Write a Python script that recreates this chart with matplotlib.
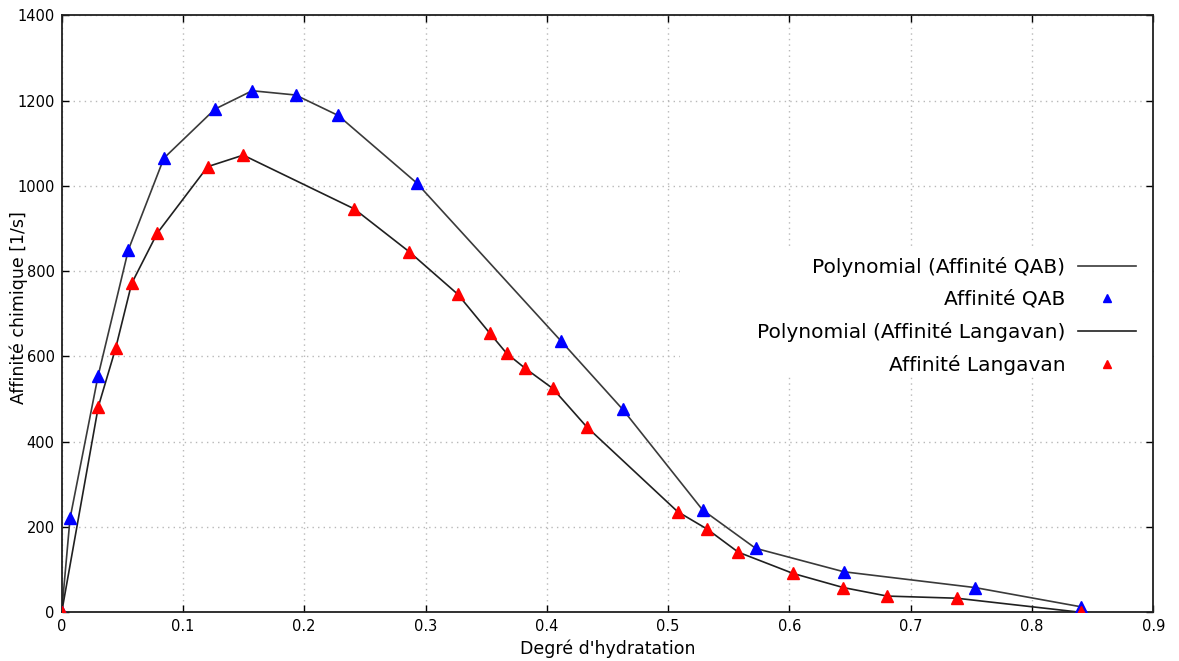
import matplotlib
matplotlib.use("Agg")
import matplotlib.pyplot as plt
from matplotlib.patches import Rectangle

plt.rcParams['font.family'] = ["DejaVu Sans"]

# Affinité QAB (triangles bleus)
x_qab = [0.0, 0.0069, 0.030, 0.055, 0.0843, 0.1264, 0.1571, 0.1929, 0.228,
         0.2926, 0.4114, 0.4625, 0.5284, 0.5721, 0.6449, 0.7529, 0.8401]
y_qab = [0, 220, 554, 850, 1065, 1180, 1223, 1213, 1165,
         1007, 637, 476, 240, 150, 95, 58, 13]

# Affinité Langavan (triangles rouges)
x_lang = [0.0, 0.0302, 0.0445, 0.0577, 0.0788, 0.1204, 0.1497, 0.2412, 0.2863,
          0.3265, 0.3531, 0.3669, 0.3822, 0.4048, 0.4328, 0.5078, 0.5322,
          0.5578, 0.6031, 0.6444, 0.6806, 0.7378, 0.8401]
y_lang = [0, 482, 619, 771, 889, 1045, 1072, 946, 846,
          746, 654, 607, 572, 525, 435, 236, 195,
          141, 91, 58, 38, 33, 0]

xticks = [0, 0.1, 0.2, 0.3, 0.4, 0.5, 0.6, 0.7, 0.8, 0.9]
xtick_labels = ["0", "0.1", "0.2", "0.3", "0.4", "0.5", "0.6", "0.7", "0.8", "0.9"]
yticks = [0, 200, 400, 600, 800, 1000, 1200, 1400]

fig = plt.figure(figsize=(11.79, 6.61), dpi=100)
ax = fig.add_axes([0.0523, 0.0737, 0.9259, 0.9032])

ax.set_axisbelow(True)
ax.grid(True, linestyle=(0, (1, 3)), color="#b8b8b8", linewidth=1.0)

# zone blanche derriere la legende (comme gnuplot)
ax.add_patch(Rectangle((0.566, 0.396), 0.434, 0.211, transform=ax.transAxes,
                       facecolor="white", edgecolor="none", zorder=1))

l1, = ax.plot(x_qab, y_qab, color="#3a3a3a", linewidth=1.2, zorder=2)
l2, = ax.plot(x_lang, y_lang, color="#202020", linewidth=1.2, zorder=2)
m1, = ax.plot(x_qab, y_qab, linestyle="none", marker="^", markersize=8,
              color="#0000ff", zorder=3)
m2, = ax.plot(x_lang, y_lang, linestyle="none", marker="^", markersize=8,
              color="#ff0000", zorder=3)

ax.set_xlim(0, 0.9)
ax.set_ylim(0, 1400)
ax.set_xticks(xticks)
ax.set_xticklabels(xtick_labels)
ax.set_yticks(yticks)
ax.tick_params(direction="in", top=True, right=True, length=5, width=1.0,
               labelsize=10.5, pad=5)

for s in ax.spines.values():
    s.set_linewidth(1.3)
    s.set_color("#202020")

ax.set_xlabel("Degré d'hydratation", fontsize=12.5, labelpad=4)
ax.set_ylabel("Affinité chimique [1/s]", fontsize=12.5)
ax.yaxis.set_label_coords(-0.031, 0.51)

leg = ax.legend([l1, m1, l2, m2],
                ["Polynomial (Affinité QAB)", "Affinité QAB",
                 "Polynomial (Affinité Langavan)", "Affinité Langavan"],
                loc="upper right", bbox_to_anchor=(0.984, 0.595),
                markerfirst=False, frameon=False, fontsize=14.5,
                handlelength=2.85, handletextpad=0.65, labelspacing=0.64,
                borderaxespad=0, borderpad=0, markerscale=0.75, numpoints=1)

fig.savefig("out.png", dpi=100)
